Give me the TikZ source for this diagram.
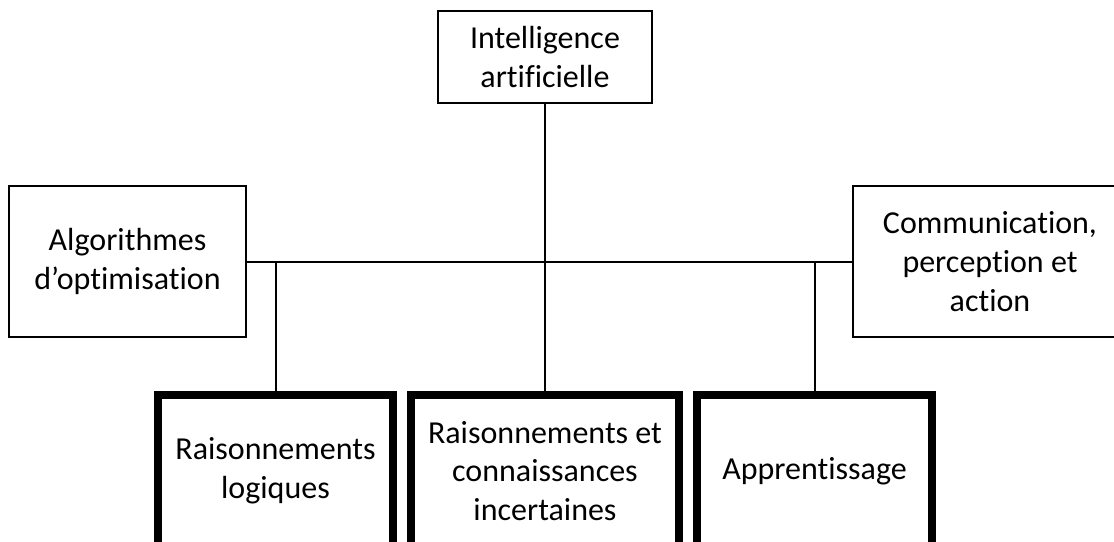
\documentclass[tikz,border=0pt]{standalone}
\usepackage{fontspec}
\setmainfont[Ligatures=NoCommon]{Carlito}
\tikzset{
  box/.style={draw, line width=1pt, align=center, inner sep=0pt,
    font=\fontsize{24pt}{29pt}\selectfont},
  boldbox/.style={box, line width=6pt},
  link/.style={line width=1.5pt}
}
\begin{document}
\begin{tikzpicture}[x=0.75pt,y=0.75pt,yscale=-1,xscale=1]
\useasboundingbox (0,0) rectangle (1114,542);
\clip (0,0) rectangle (1114,542);

% Top node
\node (ia) [box, minimum width=160.5pt, minimum height=69pt] at (545,57) {Intelligence\\artificielle};
% Side nodes
\node (algo) [box, minimum width=177.75pt, minimum height=113.25pt] at (127.5,261.5) {Algorithmes\\d’optimisation};
\node (comm) [box, minimum width=205.5pt, minimum height=113.25pt] at (990,261.5) {Communication,\\perception et\\action};
% Bottom nodes
\node (raislog) [boldbox, minimum width=176.25pt, minimum height=114pt] at (275.5,471) {Raisonnements\\logiques};
\node (raisinc) [boldbox, minimum width=201pt, minimum height=114pt] at (545,471) {Raisonnements et\\connaissances\\incertaines};
\node (appr) [boldbox, minimum width=176.25pt, minimum height=114pt] at (814.5,471) {Apprentissage};

% Links
\draw [link] (algo.east) -- (algo.east -| comm.west);
\draw [link] (ia.south) -- (raisinc.north);
\draw [link] (raislog.north) -- (raislog.north |- algo.east);
\draw [link] (appr.north) -- (appr.north |- algo.east);

\end{tikzpicture}
\end{document}
